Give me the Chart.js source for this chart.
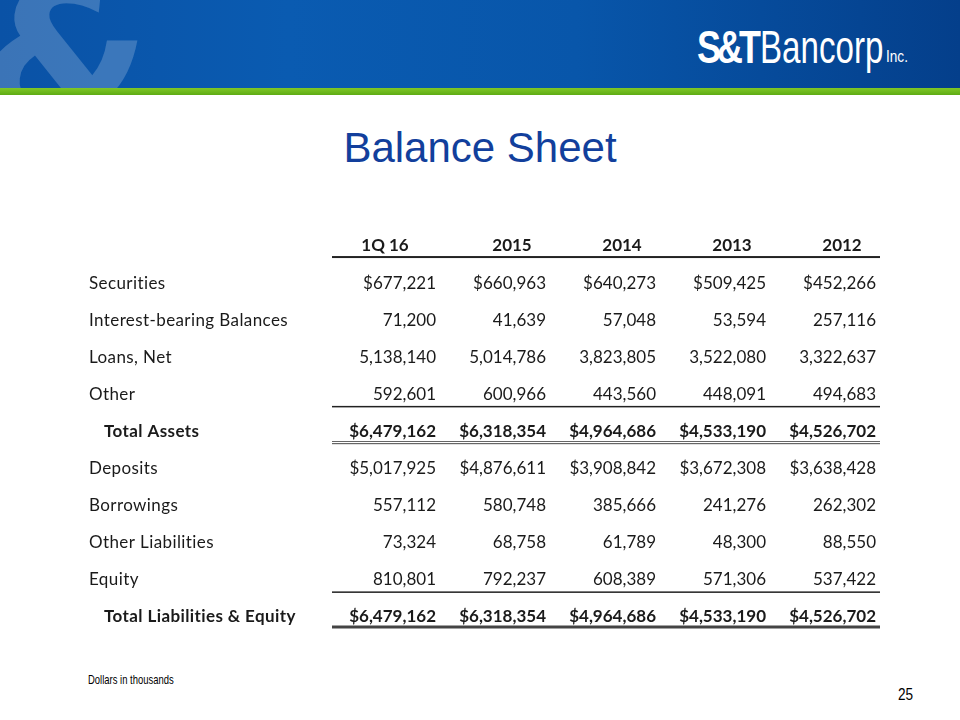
<!DOCTYPE html>
<html>
<head>
<meta charset="utf-8">
<script src="https://cdn.jsdelivr.net/npm/chart.js@4"></script>
<style>
  body { margin: 0; width: 960px; height: 720px; overflow: hidden; background: #fff; position: relative; }
  #banner { position: absolute; left: 0; top: 0; width: 960px; height: 88px; overflow: hidden;
    background: linear-gradient(90deg, #0a52a6 0%, #0a5bb1 30%, #0856aa 60%, #043f8b 100%); }
  #amp { position: absolute; left: -24px; top: -58px; line-height: 1; font: bold 200px "DejaVu Sans", sans-serif; color: rgba(255,255,255,0.2); transform: skewX(-6deg); }
  #green { position: absolute; left: 0; top: 88px; width: 960px; height: 7px; background: linear-gradient(#80c826, #5eab14); }
  .lg { position: absolute; color: #fff; font-family: "Liberation Sans", Arial, sans-serif; line-height: 1; white-space: nowrap; transform-origin: 0 0; }
  #st { left: 697px; top: 24px; font-weight: bold; font-size: 46px; letter-spacing: -5px; transform: scaleX(0.78); }
  #bn { left: 760px; top: 24px; font-size: 46px; transform: scaleX(0.72); }
  #inc { left: 886px; top: 48px; font-size: 17px; transform: scaleX(0.8); }
  #title { position: absolute; left: 0; top: 124px; width: 960px; text-align: center; font: 42px "Liberation Sans", Arial, sans-serif; color: #123f9c; }
  .ft { position: absolute; font-family: "Liberation Sans", Arial, sans-serif; color: #000; transform-origin: 0 0; white-space: nowrap; }
  #note { left: 88px; top: 672px; font-size: 13.5px; transform: scaleX(0.7); }
  #page { left: 898px; top: 685px; font-size: 17px; transform: scaleX(0.8); }
  canvas { position: absolute; left: 0; top: 0; }
</style>
</head>
<body>
<div id="banner"><div id="amp">&amp;</div>
  <div class="lg" id="st">S&amp;T</div><div class="lg" id="bn">Bancorp</div><div class="lg" id="inc">Inc.</div>
</div>
<div id="green"></div>
<div id="title">Balance Sheet</div>
<div class="ft" id="note">Dollars in thousands</div>
<div class="ft" id="page">25</div>
<canvas id="myChart" width="960" height="720"></canvas>
<script>
const periods = ['1Q 16', '2015', '2014', '2013', '2012']
const items = ['Securities', 'Interest-bearing Balances', 'Loans, Net', 'Other', 'Total Assets',
    'Deposits', 'Borrowings', 'Other Liabilities', 'Equity', 'Total Liabilities & Equity']

const q1_16 = [677221, 71200, 5138140, 592601, 6479162, 5017925, 557112, 73324, 810801, 6479162]
const y2015 = [660963, 41639, 5014786, 600966, 6318354, 4876611, 580748, 68758, 792237, 6318354]
const y2014 = [640273, 57048, 3823805, 443560, 4964686, 3908842, 385666, 61789, 608389, 4964686]
const y2013 = [509425, 53594, 3522080, 448091, 4533190, 3672308, 241276, 48300, 571306, 4533190]
const y2012 = [452266, 257116, 3322637, 494683, 4526702, 3638428, 262302, 88550, 537422, 4526702]

const series = [q1_16, y2015, y2014, y2013, y2012]
const dollarRows = [0, 4, 5, 9]
const totalRows = [4, 9]

const ctx = document.getElementById('myChart').getContext('2d');
const FONT = 'Lato, "Open Sans", sans-serif'
const SIZE = '17px '
const INK = '#1a1a1a'

// no "ti" ligature like in the slide
const noLig = s => s.replace(/ti/g, 't\u200Ci')

// draws the table text + rules from the scales
const tablePlugin = {
    id: 'table',
    afterDatasetsDraw(chart) {
        const c = chart.ctx
        const xs = chart.scales.x
        const ys = chart.scales.y
        const area = chart.chartArea
        const colW = xs.width / periods.length
        const rowH = ys.height / items.length
        c.save()
        c.textBaseline = 'middle'

        // header row
        c.font = 'bold ' + SIZE + FONT
        c.textAlign = 'center'
        c.fillStyle = INK
        const hy = ys.getPixelForValue(0) - 38
        periods.forEach((p, i) => {
            const cx = xs.getPixelForValue(i)
            c.fillText(p, i == 0 ? cx : cx + colW / 2 - 38, hy)
        })
        c.fillStyle = '#222'
        c.fillRect(area.left + 2, hy + 11, area.right - area.left - 2, 2)

        // row labels
        c.letterSpacing = '0.4px'
        items.forEach((label, r) => {
            const y = ys.getPixelForValue(r)
            const bold = totalRows.includes(r)
            c.font = (bold ? 'bold ' : '') + SIZE + FONT
            c.textAlign = 'left'
            c.fillStyle = INK
            c.fillText(noLig(label), bold ? 104 : 89, y)
        })
        c.letterSpacing = '0px'

        // cell values
        chart.data.datasets.forEach((ds, d) => {
            const meta = chart.getDatasetMeta(d)
            meta.data.forEach((pt, r) => {
                let s = series[d][r].toLocaleString('en-US')
                if (dollarRows.includes(r)) s = '$' + s
                c.font = (totalRows.includes(r) ? 'bold ' : '') + SIZE + FONT
                c.textAlign = 'right'
                c.fillStyle = INK
                c.fillText(s, pt.x + colW / 2 - 4, pt.y)
            })
        })

        // rules under rows
        const x0 = area.left + 2, w = area.right - area.left - 2
        const under = r => ys.getPixelForValue(r) + rowH / 2
        c.fillStyle = '#222'
        c.fillRect(x0, under(3) - 7, w, 1.5)
        c.fillRect(x0, under(8) - 7, w, 1.5)
        c.fillStyle = '#666'
        c.fillRect(x0, under(4) - 9, w, 1)
        c.fillRect(x0, under(4) - 7, w, 1.2)
        c.fillStyle = '#444'
        c.fillRect(x0, under(9) - 10, w, 3)
        c.restore()
    }
}

const myChart = new Chart(ctx, {
    type: 'scatter',
    data: {
        datasets: series.map((vals, d) => ({
            label: periods[d],
            data: vals.map((v, r) => ({ x: periods[d], y: items[r] })),
            pointRadius: 0
        }))
    },
    options: {
        responsive: false,
        animation: false,
        layout: { padding: { left: 330, right: 80, top: 264.5, bottom: 84.5 } },
        scales: {
            x: { type: 'category', labels: periods, offset: true, display: false },
            y: { type: 'category', labels: items, offset: true, display: false }
        },
        plugins: { legend: { display: false }, tooltip: { enabled: false } }
    },
    plugins: [tablePlugin]
});
</script>
</body>
</html>
